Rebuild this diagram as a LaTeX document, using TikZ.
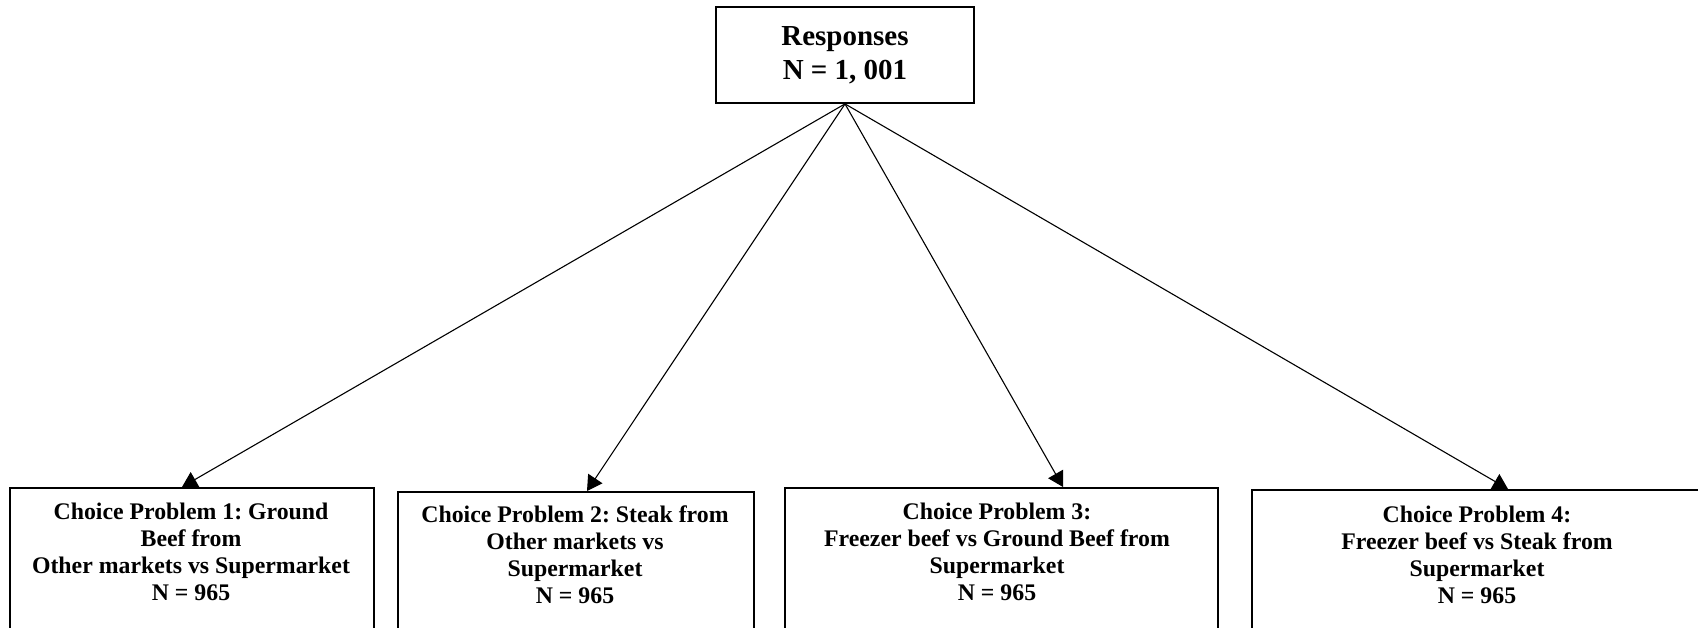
\documentclass[tikz,border=0pt]{standalone}
\usepackage{fontspec}
\setmainfont{Liberation Serif}
\usetikzlibrary{arrows.meta}
\begin{document}
\frenchspacing
\begin{tikzpicture}[x=1pt,y=-1pt,
  topbox/.style={draw,line width=1.8pt,inner sep=0pt,minimum width=258pt,minimum height=96pt,align=center,font=\bfseries\fontsize{29}{34}\selectfont},
  choicebox/.style={draw,line width=1.8pt,inner sep=0pt,anchor=north west},
  choicetext/.style={inner sep=0pt,anchor=north,align=center,font=\bfseries\fontsize{23.8}{27}\selectfont},
  arr/.style={line width=1.1pt,-{Triangle[length=15pt,width=17pt]}}]
\useasboundingbox (0,0) rectangle (1698,628);
\clip (0,0) rectangle (1698,628);
\node[topbox] (top) at (845,55) {Responses\\N = 1, 001};
\node[choicebox,minimum width=364pt,minimum height=200pt] (b1) at (9,487) {};
\node[choicebox,minimum width=356pt,minimum height=200pt] (b2) at (397,491) {};
\node[choicebox,minimum width=433pt,minimum height=200pt] (b3) at (784,487) {};
\node[choicebox,minimum width=452pt,minimum height=200pt] (b4) at (1251,489) {};
\node[choicetext] (t1) at (191,503) {Choice Problem 1: Ground\\Beef from\\Other markets vs Supermarket\\N = 965};
\node[choicetext] (t2) at (575,506) {Choice Problem 2: Steak from\\Other markets vs\\Supermarket\\N = 965};
\node[choicetext] (t3) at (997,503) {Choice Problem 3:\\Freezer beef vs Ground Beef from\\Supermarket\\N = 965};
\node[choicetext] (t4) at (1477,506) {Choice Problem 4:\\Freezer beef vs Steak from\\Supermarket\\N = 965};
\draw[arr] (top.south) -- (b1.north -| 182,0);
\draw[arr] (top.south) -- (b2.north -| 587,0);
\draw[arr] (top.south) -- (b3.north -| 1063,0);
\draw[arr] (top.south) -- (b4.north -| 1508,0);
\end{tikzpicture}
\end{document}
